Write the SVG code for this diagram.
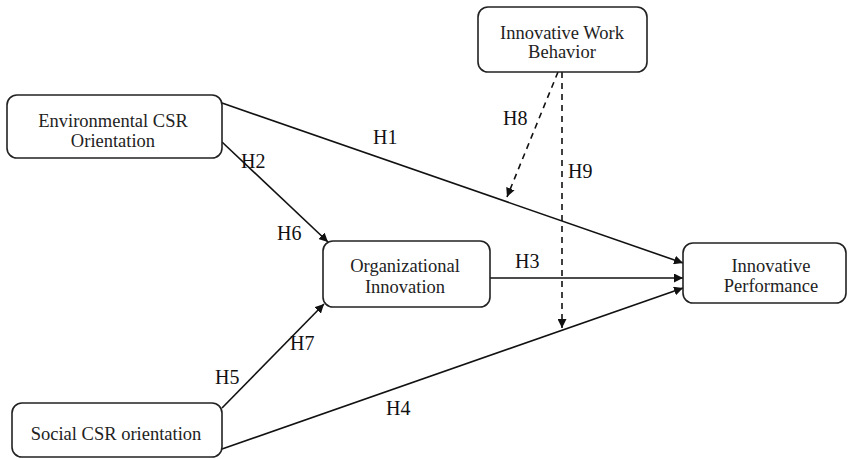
<svg xmlns="http://www.w3.org/2000/svg" width="848" height="459" viewBox="0 0 848 459">
<style>
.box{fill:#fff;stroke:#222;stroke-width:1.6}
.t{font-family:"Liberation Serif","Times New Roman",serif;font-size:18.5px;fill:#222;text-anchor:middle}
.lb{font-family:"Liberation Serif","Times New Roman",serif;font-size:20px;fill:#111}
.ln{stroke:#111;stroke-width:1.6;fill:none}
.ds{stroke:#111;stroke-width:1.6;fill:none;stroke-dasharray:6,5}
</style>
<defs>
<marker id="ah" viewBox="0 0 10 10" refX="10" refY="5" markerWidth="9" markerHeight="9" markerUnits="userSpaceOnUse" orient="auto">
<path d="M0,0 L10,5 L0,10 z" fill="#111"/>
</marker>
</defs>
<g id="connectors">
<line class="ln" x1="222" y1="103" x2="683" y2="263" marker-end="url(#ah)"/>
<line class="ln" x1="490" y1="278" x2="683" y2="278" marker-end="url(#ah)"/>
<line class="ln" x1="222" y1="449" x2="683" y2="288" marker-end="url(#ah)"/>
<line class="ln" x1="222" y1="142" x2="328" y2="242" marker-end="url(#ah)"/>
<line class="ln" x1="222" y1="408" x2="324" y2="304" marker-end="url(#ah)"/>
<line class="ds" x1="558" y1="72" x2="507" y2="197" marker-end="url(#ah)"/>
<line class="ds" x1="562" y1="72" x2="562" y2="328" marker-end="url(#ah)"/>
</g>
<g id="iwb">
<rect class="box" x="478" y="7" width="169" height="65" rx="10"/>
<text class="t" x="562" y="39">Innovative Work</text>
<text class="t" x="562" y="58">Behavior</text>
</g>
<g id="env">
<rect class="box" x="7" y="95" width="215" height="63" rx="10"/>
<text class="t" x="113" y="127">Environmental CSR</text>
<text class="t" x="113" y="147">Orientation</text>
</g>
<g id="org">
<rect class="box" x="323" y="241" width="167" height="66" rx="10"/>
<text class="t" x="405" y="272">Organizational</text>
<text class="t" x="405" y="293">Innovation</text>
</g>
<g id="perf">
<rect class="box" x="683" y="243" width="163" height="60" rx="10"/>
<text class="t" x="771" y="272">Innovative</text>
<text class="t" x="771" y="292">Performance</text>
</g>
<g id="social">
<rect class="box" x="12" y="403" width="210" height="54" rx="10"/>
<text class="t" x="116" y="440">Social CSR orientation</text>
</g>
<g id="labels">
<text class="lb" x="373" y="144">H1</text>
<text class="lb" x="241" y="168">H2</text>
<text class="lb" x="515" y="268">H3</text>
<text class="lb" x="386" y="415">H4</text>
<text class="lb" x="215" y="384">H5</text>
<text class="lb" x="277" y="240">H6</text>
<text class="lb" x="290" y="350">H7</text>
<text class="lb" x="503" y="125">H8</text>
<text class="lb" x="568" y="178">H9</text>
</g>
</svg>
